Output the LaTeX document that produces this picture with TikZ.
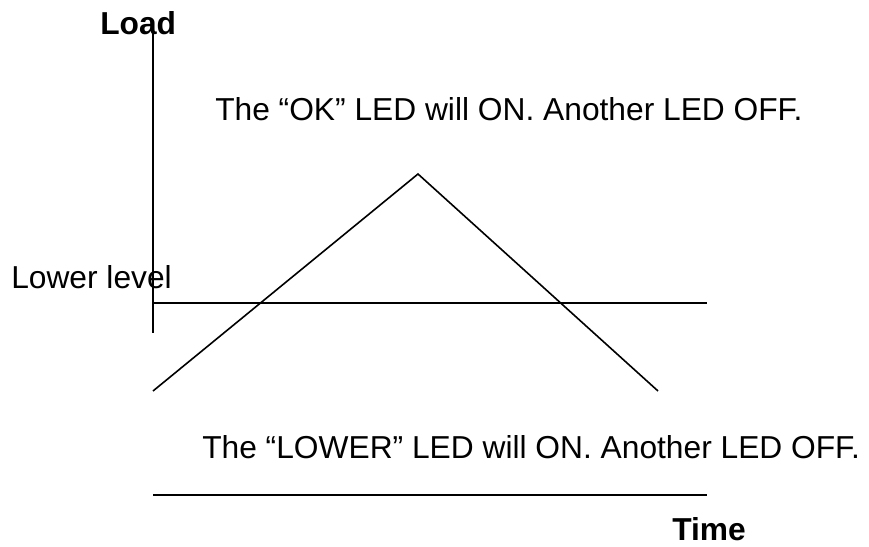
\documentclass[tikz,border=0pt]{standalone}
\usepackage{fontspec}
\setmainfont{Liberation Sans}
\usepackage{tikz}
\usetikzlibrary{positioning}

\begin{document}
\begin{tikzpicture}[x=0.75pt,y=-0.75pt,lbl/.style={anchor=base west,inner sep=0pt,font=\fontsize{23.8}{28}\selectfont},ttl/.style={lbl,font=\fontsize{23.8}{28}\selectfont\bfseries},ln/.style={line width=1.2pt,draw=black}]
\useasboundingbox (0,0) rectangle (869,547);
\coordinate (ytop) at (153,30);\coordinate (ybot) at (153,333);
\coordinate (lowl) at (153,303);\coordinate (lowr) at (707,303);
\coordinate (tl) at (153,391);\coordinate (apex) at (418,174);\coordinate (tr) at (658,391);
\coordinate (botl) at (153,495);\coordinate (botr) at (707,495);
\node[ttl] (load) at (100,34) {Load};
\node[ttl] (time) at (672,540) {Time};
\node[lbl] (lower) at (11,288) {Lower level};
\node[lbl] (ok) at (215,120) {The “OK” LED will ON. Another LED OFF.};
\node[lbl] (low) at (202,458) {The “LOWER” LED will ON. Another LED OFF.};
\draw[ln](ytop)--(ybot);\draw[ln](lowl)--(lowr);\draw[ln](tl)--(apex)--(tr);\draw[ln](botl)--(botr);
\end{tikzpicture}
\end{document}
